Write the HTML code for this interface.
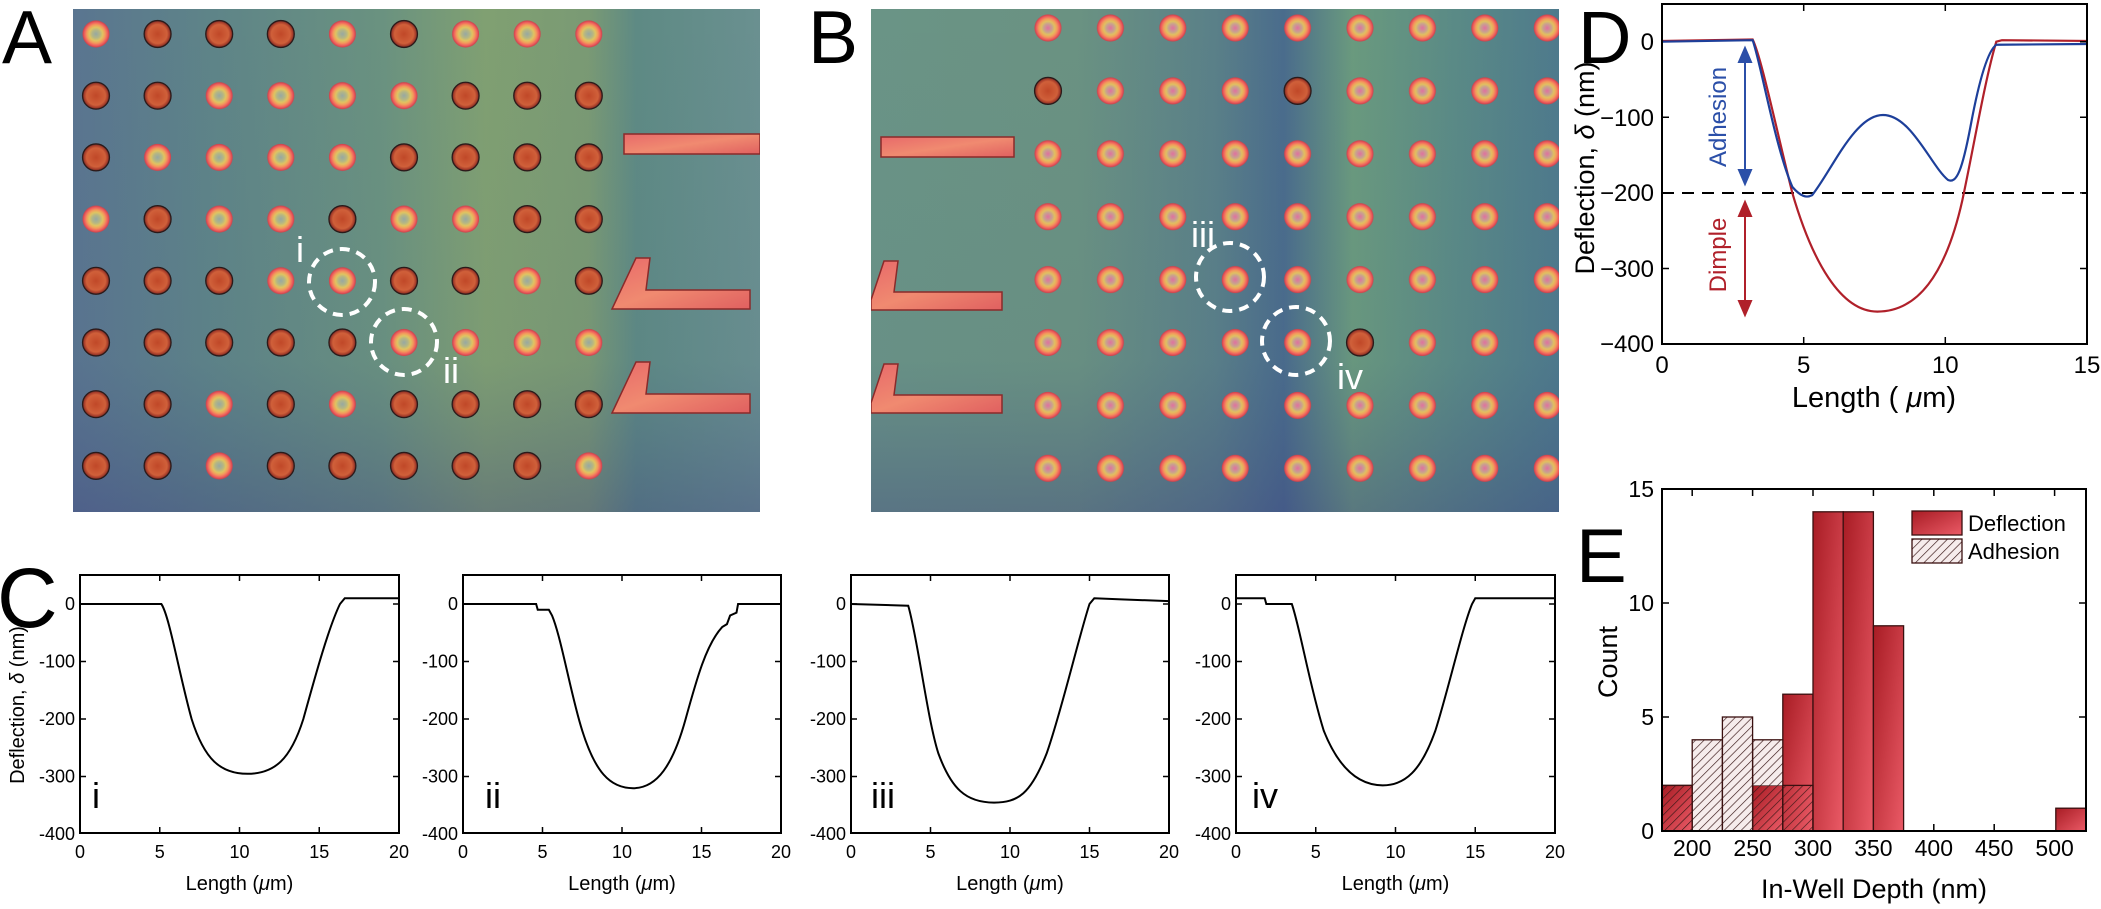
<!DOCTYPE html>
<html><head><meta charset="utf-8"><style>
html,body{margin:0;padding:0;background:#fff;}
svg{display:block;font-family:"Liberation Sans",Arial,sans-serif;}
</style></head><body>
<svg width="2101" height="909" viewBox="0 0 2101 909" xmlns="http://www.w3.org/2000/svg">
<defs>
<radialGradient id="well"><stop offset="0" stop-color="#97a8a2"/><stop offset="0.3" stop-color="#b4b684"/><stop offset="0.5" stop-color="#e0c460"/><stop offset="0.68" stop-color="#f39a5c"/><stop offset="0.85" stop-color="#f0605e"/><stop offset="1" stop-color="#c8404a"/></radialGradient>
<radialGradient id="wellB"><stop offset="0" stop-color="#e070a0"/><stop offset="0.3" stop-color="#c8a090"/><stop offset="0.5" stop-color="#e0c060"/><stop offset="0.68" stop-color="#f39a5c"/><stop offset="0.85" stop-color="#f0605e"/><stop offset="1" stop-color="#c8404a"/></radialGradient>
<radialGradient id="dark"><stop offset="0" stop-color="#c04828"/><stop offset="0.7" stop-color="#d0603a"/><stop offset="0.9" stop-color="#a03828"/><stop offset="1" stop-color="#302020"/></radialGradient>
<pattern id="gridA" patternUnits="userSpaceOnUse" x="65.2" y="3.15" width="61.6" height="61.7"><circle cx="30.8" cy="30.85" r="13.5" fill="url(#well)"/></pattern>
<pattern id="gridB" patternUnits="userSpaceOnUse" x="1016.8" y="-3.4" width="62.4" height="62.9"><circle cx="31.2" cy="31.4" r="13.5" fill="url(#wellB)"/></pattern>
<linearGradient id="bgA" x1="0" y1="0" x2="1" y2="0"><stop offset="0" stop-color="#5a7590"/><stop offset="0.2" stop-color="#5e8488"/><stop offset="0.45" stop-color="#6a9280"/><stop offset="0.6" stop-color="#80a072"/><stop offset="0.75" stop-color="#7a9a74"/><stop offset="0.82" stop-color="#5e8a84"/><stop offset="1" stop-color="#6a9090"/></linearGradient>
<linearGradient id="bgB" x1="0" y1="0" x2="1" y2="0"><stop offset="0" stop-color="#6a9486"/><stop offset="0.3" stop-color="#6a9282"/><stop offset="0.5" stop-color="#5a8088"/><stop offset="0.6" stop-color="#4a6c8c"/><stop offset="0.7" stop-color="#6a9a7e"/><stop offset="0.85" stop-color="#5a8a86"/><stop offset="1" stop-color="#4e7a8c"/></linearGradient>
<linearGradient id="vshade" x1="0" y1="0" x2="0" y2="1"><stop offset="0" stop-color="#3a4a80" stop-opacity="0"/><stop offset="0.7" stop-color="#3a4a80" stop-opacity="0.05"/><stop offset="1" stop-color="#3a3a80" stop-opacity="0.35"/></linearGradient>
<linearGradient id="struct" x1="0" y1="0" x2="1" y2="1"><stop offset="0" stop-color="#e86a6a"/><stop offset="0.5" stop-color="#f08a70"/><stop offset="1" stop-color="#e06060"/></linearGradient>
<linearGradient id="redbar" x1="0" y1="0" x2="1" y2="1"><stop offset="0" stop-color="#a81c24"/><stop offset="1" stop-color="#ea5a66"/></linearGradient>
<pattern id="hatch" patternUnits="userSpaceOnUse" width="6" height="6" patternTransform="rotate(45)"><line x1="0" y1="0" x2="0" y2="6" stroke="#3a1818" stroke-width="1.3"/></pattern>
<circle id="dk" r="13.5" fill="url(#dark)" stroke="#2a1a1a" stroke-width="1.2"/>
<clipPath id="cA"><rect x="73" y="9" width="687" height="503"/></clipPath>
<clipPath id="cB"><rect x="871" y="9" width="688" height="503"/></clipPath>
</defs>

<!-- Panel A -->
<g clip-path="url(#cA)">
<rect x="73" y="9" width="687" height="503" fill="url(#bgA)"/>
<rect x="73" y="9" width="687" height="503" fill="url(#vshade)"/>
<rect x="65.2" y="3.15" width="554.4" height="493.6" fill="url(#gridA)"/>
<g>
<use href="#dk" x="157.6" y="34"/><use href="#dk" x="219.2" y="34"/><use href="#dk" x="280.8" y="34"/><use href="#dk" x="404" y="34"/>
<use href="#dk" x="96" y="95.7"/><use href="#dk" x="157.6" y="95.7"/><use href="#dk" x="465.6" y="95.7"/><use href="#dk" x="527.2" y="95.7"/><use href="#dk" x="588.8" y="95.7"/>
<use href="#dk" x="96" y="157.4"/><use href="#dk" x="404" y="157.4"/><use href="#dk" x="465.6" y="157.4"/><use href="#dk" x="527.2" y="157.4"/><use href="#dk" x="588.8" y="157.4"/>
<use href="#dk" x="157.6" y="219.1"/><use href="#dk" x="342.4" y="219.1"/><use href="#dk" x="527.2" y="219.1"/><use href="#dk" x="588.8" y="219.1"/>
<use href="#dk" x="96" y="280.8"/><use href="#dk" x="157.6" y="280.8"/><use href="#dk" x="219.2" y="280.8"/><use href="#dk" x="404" y="280.8"/><use href="#dk" x="465.6" y="280.8"/><use href="#dk" x="588.8" y="280.8"/>
<use href="#dk" x="96" y="342.5"/><use href="#dk" x="157.6" y="342.5"/><use href="#dk" x="219.2" y="342.5"/><use href="#dk" x="280.8" y="342.5"/><use href="#dk" x="342.4" y="342.5"/>
<use href="#dk" x="96" y="404.2"/><use href="#dk" x="157.6" y="404.2"/><use href="#dk" x="280.8" y="404.2"/><use href="#dk" x="404" y="404.2"/><use href="#dk" x="465.6" y="404.2"/><use href="#dk" x="527.2" y="404.2"/><use href="#dk" x="588.8" y="404.2"/>
<use href="#dk" x="96" y="465.9"/><use href="#dk" x="157.6" y="465.9"/><use href="#dk" x="280.8" y="465.9"/><use href="#dk" x="342.4" y="465.9"/><use href="#dk" x="404" y="465.9"/><use href="#dk" x="465.6" y="465.9"/><use href="#dk" x="527.2" y="465.9"/>
</g>
<rect x="624" y="134" width="136" height="20" fill="url(#struct)" stroke="#8a2a2a" stroke-width="1.5"/>
<path d="M636,258 L650,258 L646,290 L750,290 L750,309 L612,309 Z" fill="url(#struct)" stroke="#8a2a2a" stroke-width="1.5"/>
<path d="M636,362 L650,362 L646,394 L750,394 L750,413 L612,413 Z" fill="url(#struct)" stroke="#8a2a2a" stroke-width="1.5"/>
<circle cx="342" cy="282" r="33" fill="none" stroke="#fff" stroke-width="4" stroke-dasharray="10 7"/>
<circle cx="404" cy="342" r="33" fill="none" stroke="#fff" stroke-width="4" stroke-dasharray="10 7"/>
</g>
<text x="300" y="262" font-size="36" fill="#fff" text-anchor="middle">i</text>
<text x="451" y="383" font-size="36" fill="#fff" text-anchor="middle">ii</text>

<!-- Panel B -->
<g clip-path="url(#cB)">
<rect x="871" y="9" width="688" height="503" fill="url(#bgB)"/>
<rect x="871" y="9" width="688" height="503" fill="url(#vshade)"/>
<rect x="1016.8" y="-3.4" width="561.6" height="503.2" fill="url(#gridB)"/>
<use href="#dk" x="1048" y="90.9"/><use href="#dk" x="1297.6" y="90.9"/><use href="#dk" x="1360" y="342.5"/>
<rect x="881" y="137" width="133" height="20" fill="url(#struct)" stroke="#8a2a2a" stroke-width="1.5"/>
<path d="M884,261 L898,261 L894,292 L1002,292 L1002,310 L871,310 L871,300 Z" fill="url(#struct)" stroke="#8a2a2a" stroke-width="1.5"/>
<path d="M884,364 L898,364 L894,395 L1002,395 L1002,413 L871,413 L871,403 Z" fill="url(#struct)" stroke="#8a2a2a" stroke-width="1.5"/>
<circle cx="1230" cy="277" r="34" fill="none" stroke="#fff" stroke-width="4" stroke-dasharray="10 7"/>
<circle cx="1296" cy="341" r="34" fill="none" stroke="#fff" stroke-width="4" stroke-dasharray="10 7"/>
</g>
<text x="1203" y="247" font-size="36" fill="#fff" text-anchor="middle">iii</text>
<text x="1350" y="389" font-size="36" fill="#fff" text-anchor="middle">iv</text>

<!-- Panel letters -->
<text x="2" y="63" font-size="75">A</text>
<text x="808" y="63" font-size="75">B</text>
<text x="-3" y="627" font-size="84">C</text>
<text x="1578" y="63" font-size="74">D</text>
<text x="1576" y="582" font-size="76">E</text>

<!-- Panel C -->
<g font-size="19" fill="#000">
<text transform="translate(24,705) rotate(-90)" text-anchor="middle" font-size="20">Deflection, <tspan font-style="italic">δ</tspan> (nm)</text>
</g>
<g id="cpanels" font-size="18">
<!-- panel i -->
<g transform="translate(80,0)">
<rect x="0" y="575" width="319" height="258" fill="none" stroke="#000" stroke-width="2"/>
<g stroke="#000" stroke-width="1.5">
<path d="M0,604 h6 M0,661.5 h6 M0,719 h6 M0,776.5 h6 M319,604 h-6 M319,661.5 h-6 M319,719 h-6 M319,776.5 h-6 M79.75,575 v6 M159.5,575 v6 M239.25,575 v6 M79.75,833 v-6 M159.5,833 v-6 M239.25,833 v-6"/>
</g>
<g text-anchor="end"><text x="-5" y="610">0</text><text x="-5" y="667.5">-100</text><text x="-5" y="725">-200</text><text x="-5" y="782.5">-300</text><text x="-5" y="840">-400</text></g>
<g text-anchor="middle"><text x="0" y="858">0</text><text x="79.75" y="858">5</text><text x="159.5" y="858">10</text><text x="239.25" y="858">15</text><text x="319" y="858">20</text></g>
<text x="159.5" y="890" text-anchor="middle" font-size="20">Length (<tspan font-style="italic">μ</tspan>m)</text>
<g transform="translate(0,604) scale(15.95,-0.5756)"><path vector-effect="non-scaling-stroke" fill="none" stroke="#000" stroke-width="2" d="M0,0 L5.1,0 C5.6,-20 6.2,-120 7,-200 C7.8,-270 8.8,-295 10.5,-295 C12.2,-295 13.2,-270 14,-200 C14.8,-120 15.6,-40 16.3,0 L16.6,10 L20,10"/></g>
<text x="12" y="808" font-size="36">i</text>
</g>
<!-- panel ii -->
<g transform="translate(463,0)">
<rect x="0" y="575" width="318" height="258" fill="none" stroke="#000" stroke-width="2"/>
<g stroke="#000" stroke-width="1.5">
<path d="M0,604 h6 M0,661.5 h6 M0,719 h6 M0,776.5 h6 M318,604 h-6 M318,661.5 h-6 M318,719 h-6 M318,776.5 h-6 M79.5,575 v6 M159,575 v6 M238.5,575 v6 M79.5,833 v-6 M159,833 v-6 M238.5,833 v-6"/>
</g>
<g text-anchor="end"><text x="-5" y="610">0</text><text x="-5" y="667.5">-100</text><text x="-5" y="725">-200</text><text x="-5" y="782.5">-300</text><text x="-5" y="840">-400</text></g>
<g text-anchor="middle"><text x="0" y="858">0</text><text x="79.5" y="858">5</text><text x="159" y="858">10</text><text x="238.5" y="858">15</text><text x="318" y="858">20</text></g>
<text x="159" y="890" text-anchor="middle" font-size="20">Length (<tspan font-style="italic">μ</tspan>m)</text>
<g transform="translate(0,604) scale(15.9,-0.5756)"><path vector-effect="non-scaling-stroke" fill="none" stroke="#000" stroke-width="2" d="M0,0 L4.6,0 L4.7,-10 L5.4,-10 L5.6,-20 C6.2,-60 6.8,-160 7.5,-220 C8.3,-290 9.2,-320 10.7,-320 C12.2,-320 13.2,-280 14,-200 C14.7,-130 15.3,-70 16.3,-40 L16.6,-35 L16.8,-20 L17.2,-15 L17.3,0 L20,0"/></g>
<text x="22" y="808" font-size="36">ii</text>
</g>
<!-- panel iii -->
<g transform="translate(851,0)">
<rect x="0" y="575" width="318" height="258" fill="none" stroke="#000" stroke-width="2"/>
<g stroke="#000" stroke-width="1.5">
<path d="M0,604 h6 M0,661.5 h6 M0,719 h6 M0,776.5 h6 M318,604 h-6 M318,661.5 h-6 M318,719 h-6 M318,776.5 h-6 M79.5,575 v6 M159,575 v6 M238.5,575 v6 M79.5,833 v-6 M159,833 v-6 M238.5,833 v-6"/>
</g>
<g text-anchor="end"><text x="-5" y="610">0</text><text x="-5" y="667.5">-100</text><text x="-5" y="725">-200</text><text x="-5" y="782.5">-300</text><text x="-5" y="840">-400</text></g>
<g text-anchor="middle"><text x="0" y="858">0</text><text x="79.5" y="858">5</text><text x="159" y="858">10</text><text x="238.5" y="858">15</text><text x="318" y="858">20</text></g>
<text x="159" y="890" text-anchor="middle" font-size="20">Length (<tspan font-style="italic">μ</tspan>m)</text>
<g transform="translate(0,604) scale(15.9,-0.5756)"><path vector-effect="non-scaling-stroke" fill="none" stroke="#000" stroke-width="2" d="M0,0 L3.6,-3 C4.2,-60 4.8,-200 5.5,-260 C6.3,-320 7.2,-345 9,-345 C10.5,-345 11.3,-330 12.3,-260 C13.2,-190 14.3,-60 15,0 L15.3,10 L17,8 L20,5"/></g>
<text x="20" y="808" font-size="36">iii</text>
</g>
<!-- panel iv -->
<g transform="translate(1236,0)">
<rect x="0" y="575" width="319" height="258" fill="none" stroke="#000" stroke-width="2"/>
<g stroke="#000" stroke-width="1.5">
<path d="M0,604 h6 M0,661.5 h6 M0,719 h6 M0,776.5 h6 M319,604 h-6 M319,661.5 h-6 M319,719 h-6 M319,776.5 h-6 M79.75,575 v6 M159.5,575 v6 M239.25,575 v6 M79.75,833 v-6 M159.5,833 v-6 M239.25,833 v-6"/>
</g>
<g text-anchor="end"><text x="-5" y="610">0</text><text x="-5" y="667.5">-100</text><text x="-5" y="725">-200</text><text x="-5" y="782.5">-300</text><text x="-5" y="840">-400</text></g>
<g text-anchor="middle"><text x="0" y="858">0</text><text x="79.75" y="858">5</text><text x="159.5" y="858">10</text><text x="239.25" y="858">15</text><text x="319" y="858">20</text></g>
<text x="159.5" y="890" text-anchor="middle" font-size="20">Length (<tspan font-style="italic">μ</tspan>m)</text>
<g transform="translate(0,604) scale(15.95,-0.5756)"><path vector-effect="non-scaling-stroke" fill="none" stroke="#000" stroke-width="2" d="M0,10 L1.8,10 L1.9,0 L3.5,0 C4,-40 4.6,-140 5.5,-220 C6.5,-290 7.8,-315 9.2,-315 C10.6,-315 11.6,-290 12.5,-220 C13.3,-150 14.2,-40 14.8,0 L15,10 L20,10"/></g>
<text x="16" y="808" font-size="36">iv</text>
</g>
</g>

<!-- Panel D -->
<g font-size="24">
<line x1="1662" y1="193" x2="2087" y2="193" stroke="#000" stroke-width="2" stroke-dasharray="12 8"/>
<g transform="translate(1662,41.7) scale(28.33,-0.756)">
<path vector-effect="non-scaling-stroke" fill="none" stroke="#b0202a" stroke-width="2.2" d="M0,1 L3.2,3 C3.5,-20 4,-110 4.6,-200 C5.3,-290 6.3,-357 7.6,-357 C9,-357 10,-310 10.6,-210 C11,-140 11.4,-50 11.8,0 L12,2 L15,1"/>
<path vector-effect="non-scaling-stroke" fill="none" stroke="#1d3f9a" stroke-width="2.2" d="M0,0 L3.2,2 C3.5,-30 4,-140 4.6,-192 C4.9,-205 5.1,-207 5.3,-203 C6,-170 6.8,-97 7.8,-97 C8.8,-97 9.5,-165 10.1,-183 C10.4,-188 10.6,-170 10.9,-110 C11.2,-50 11.5,-12 11.8,-4 L15,-3"/>
</g>
<g stroke="#2b4fa8" stroke-width="2" fill="#2b4fa8"><line x1="1745" y1="56" x2="1745" y2="176"/><path d="M1739,62 L1745,48 L1751,62 Z M1739,170 L1745,184 L1751,170 Z"/></g>
<g stroke="#b0202a" stroke-width="2" fill="#b0202a"><line x1="1745" y1="210" x2="1745" y2="307"/><path d="M1739,216 L1745,202 L1751,216 Z M1739,301 L1745,315 L1751,301 Z"/></g>
<text transform="translate(1726,117) rotate(-90)" text-anchor="middle" fill="#2b4fa8">Adhesion</text>
<text transform="translate(1726,255) rotate(-90)" text-anchor="middle" fill="#b0202a">Dimple</text>
<rect x="1662" y="4" width="425" height="340" fill="none" stroke="#000" stroke-width="2"/>
<g stroke="#000" stroke-width="1.5"><path d="M1662,117.3 h7 M1662,192.9 h7 M1662,268.5 h7 M2087,41.7 h-7 M2087,117.3 h-7 M2087,192.9 h-7 M2087,268.5 h-7 M1803.7,4 v7 M1945.3,4 v7 M1803.7,344 v-7 M1945.3,344 v-7"/></g>
<g text-anchor="end"><text x="1654" y="50">0</text><text x="1654" y="126">−100</text><text x="1654" y="201">−200</text><text x="1654" y="277">−300</text><text x="1654" y="352">−400</text></g>
<g text-anchor="middle"><text x="1662" y="373">0</text><text x="1803.7" y="373">5</text><text x="1945.3" y="373">10</text><text x="2087" y="373">15</text></g>
<text x="1874" y="407" text-anchor="middle" font-size="29">Length ( <tspan font-style="italic">μ</tspan>m)</text>
<text transform="translate(1594,168) rotate(-90)" text-anchor="middle" font-size="27">Deflection,  <tspan font-style="italic">δ</tspan> (nm)</text>
</g>

<!-- Panel E -->
<g font-size="22">
<!-- red bars -->
<g fill="url(#redbar)" stroke="#3a1010" stroke-width="1.3">
<rect x="1662" y="785.4" width="30.2" height="45.6"/>
<rect x="1752.6" y="785.4" width="30.2" height="45.6"/>
<rect x="1782.8" y="694.2" width="30.2" height="136.8"/>
<rect x="1813" y="511.8" width="30.2" height="319.2"/>
<rect x="1843.2" y="511.8" width="30.2" height="319.2"/>
<rect x="1873.4" y="625.8" width="30.2" height="205.2"/>
<rect x="2055.8" y="808.2" width="30.2" height="22.8"/>
</g>
<!-- adhesion -->
<g fill="#f6ecec" stroke="none">
<rect x="1692.2" y="739.8" width="30.2" height="91.2"/>
<rect x="1722.4" y="717" width="30.2" height="114"/>
<rect x="1752.6" y="739.8" width="30.2" height="45.6"/>
</g>
<g fill="url(#hatch)" stroke="#3a1010" stroke-width="1.3">
<rect x="1662" y="785.4" width="30.2" height="45.6"/>
<rect x="1692.2" y="739.8" width="30.2" height="91.2"/>
<rect x="1722.4" y="717" width="30.2" height="114"/>
<rect x="1752.6" y="739.8" width="30.2" height="91.2"/>
<rect x="1782.8" y="785.4" width="30.2" height="45.6"/>
</g>
<rect x="1662" y="489" width="424" height="342" fill="none" stroke="#000" stroke-width="2"/>
<g stroke="#000" stroke-width="1.5"><path d="M1662,603 h7 M1662,717 h7 M2086,603 h-7 M2086,717 h-7 M1692.2,489 v7 M1752.6,489 v7 M1813,489 v7 M1873.4,489 v7 M1933.8,489 v7 M1994.2,489 v7 M2054.6,489 v7 M1933.8,831 v-7 M1994.2,831 v-7"/></g>
<g text-anchor="end" font-size="23"><text x="1654" y="497">15</text><text x="1654" y="611">10</text><text x="1654" y="725">5</text><text x="1654" y="839">0</text></g>
<g text-anchor="middle" font-size="23"><text x="1692.2" y="856">200</text><text x="1752.6" y="856">250</text><text x="1813" y="856">300</text><text x="1873.4" y="856">350</text><text x="1933.8" y="856">400</text><text x="1994.2" y="856">450</text><text x="2054.6" y="856">500</text></g>
<text x="1874" y="898" text-anchor="middle" font-size="27">In-Well Depth (nm)</text>
<text transform="translate(1617,662) rotate(-90)" text-anchor="middle" font-size="27">Count</text>
<rect x="1912" y="511" width="50" height="24" fill="url(#redbar)" stroke="#3a1010" stroke-width="1.3"/>
<rect x="1912" y="539" width="50" height="24" fill="#f6ecec" stroke="none"/>
<rect x="1912" y="539" width="50" height="24" fill="url(#hatch)" stroke="#3a1010" stroke-width="1.3"/>
<text x="1968" y="531">Deflection</text>
<text x="1968" y="559">Adhesion</text>
</g>
</svg>
</body></html>
